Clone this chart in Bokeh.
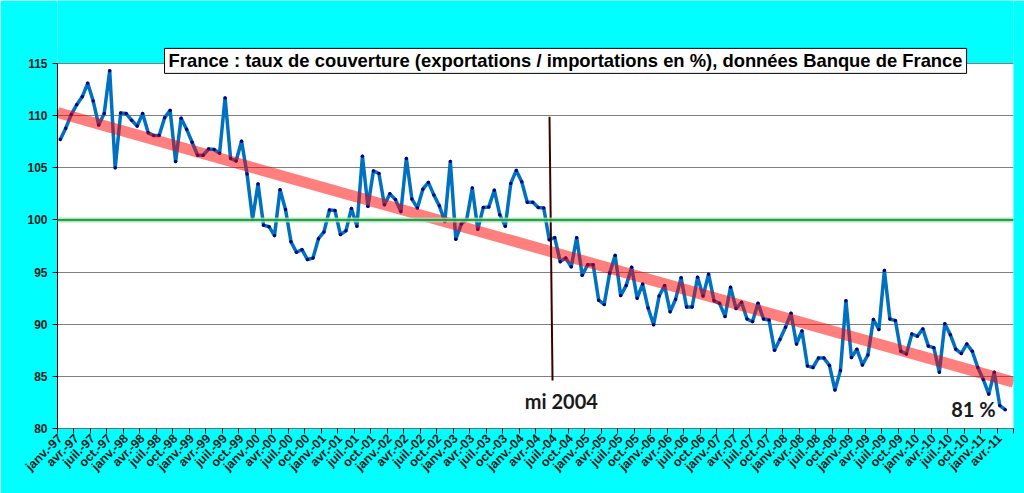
from bokeh.plotting import figure
from bokeh.models import FixedTicker, Label, Span
from bokeh.embed import file_html
from bokeh.resources import INLINE

# Monthly coverage rate (exports / imports, %), Jan 1997 onwards
values = [
    107.7, 108.8, 110.1, 111.05, 111.8, 113.1, 111.4, 109.1, 110.2, 114.3, 105.0, 110.25,
    110.2, 109.55, 109.0, 110.2, 108.35, 108.1, 108.1, 109.8, 110.5, 105.6, 109.75, 108.7,
    107.45, 106.2, 106.2, 106.8, 106.75, 106.4, 111.7, 105.9, 105.65, 107.55, 104.4, 100.1,
    103.45, 99.5, 99.35, 98.5, 102.9, 101.0, 97.9, 96.9, 97.15, 96.2, 96.35, 98.2,
    98.85, 100.95, 100.9, 98.6, 98.95, 101.1, 99.4, 106.1, 101.3, 104.7, 104.45, 101.45,
    102.5, 101.95, 100.8, 105.9, 102.0, 101.15, 102.95, 103.6, 102.4, 101.35, 99.85, 105.6,
    98.15, 99.6, 100.1, 103.05, 99.1, 101.2, 101.25, 102.85, 100.5, 99.4, 103.5, 104.75,
    103.65, 101.7, 101.7, 101.2, 101.15, 98.1, 98.3, 96.0, 96.35, 95.5, 98.3, 94.7,
    95.7, 95.7, 92.3, 91.9, 94.9, 96.6, 92.75, 93.7, 95.45, 92.5, 93.85, 91.55,
    89.95, 92.7, 93.7, 91.2, 92.4, 94.45, 91.65, 91.65, 94.5, 92.7, 94.8, 92.25,
    92.0, 90.75, 93.55, 91.5, 92.1, 90.5, 90.25, 92.0, 90.5, 90.4, 87.5, 88.55,
    89.7, 91.05, 88.1, 89.35, 86.0, 85.85, 86.75, 86.75, 86.05, 83.7, 85.55, 92.25,
    86.8, 87.6, 86.1, 87.05, 90.45, 89.5, 95.15, 90.5, 90.35, 87.4, 87.15, 89.05,
    88.85, 89.55, 87.9, 87.75, 85.4, 90.05, 89.0, 87.6, 87.2, 88.1, 87.4, 85.85,
    84.7, 83.3, 85.4, 82.2, 81.8,
]
months = ["janv.", "avr.", "juil.", "oct."]
years = ["97", "98", "99", "00", "01", "02", "03", "04", "05", "06", "07", "08", "09", "10", "11"]
tick_labels = [f"{m}-{y}" for y in years for m in months][:58]
n_categories = 174
y_ticks = [80, 85, 90, 95, 100, 105, 110, 115]
axis_min, axis_max = 80, 115
title_space_top = 121.04
trend_x = [-0.5, 173.5]
trend_y = [110.3, 84.45]
mid_x = [89.05, 89.6]
mid_y = [109.9, 84.6]
ref_level = 100
title_text = "France : taux de couverture (exportations / importations en %), données Banque de France"

x = list(range(len(values)))
label_pos = [3 * k for k in range(len(tick_labels))]
boundaries = [3 * k - 0.5 for k in range(len(tick_labels) + 1)]
x_lo, x_hi = -0.5, n_categories - 0.5

p = figure(width=1024, height=493, x_range=(x_lo, x_hi), y_range=(axis_min, title_space_top),
           output_backend="svg", toolbar_location=None, title=None)
p.min_border_left = 57
p.min_border_right = 11
p.min_border_top = 0
p.min_border_bottom = 65
p.border_fill_color = "#00FFFF"
p.background_fill_color = "#00FFFF"
p.outline_line_color = None

# white plot area only up to the top of the value axis
p.quad(left=[x_lo], right=[x_hi], bottom=[axis_min], top=[axis_max],
       fill_color="white", line_color=None, level="image")

p.xgrid.visible = False
p.ygrid.ticker = FixedTicker(ticks=y_ticks)
p.ygrid.grid_line_color = "#7f7f7f"
p.ygrid.grid_line_width = 1

p.yaxis.ticker = FixedTicker(ticks=y_ticks)
p.yaxis.bounds = (axis_min, axis_max)
p.yaxis.axis_line_color = "black"
p.yaxis.major_tick_line_color = "black"
p.yaxis.major_tick_out = 5
p.yaxis.major_tick_in = 0
p.yaxis.minor_tick_line_color = None
p.yaxis.major_label_text_font = "Liberation Sans"
p.yaxis.major_label_text_font_style = "bold"
p.yaxis.major_label_text_font_size = "12px"
p.yaxis.major_label_text_color = "#1a1a1a"

p.xaxis.ticker = FixedTicker(ticks=label_pos, minor_ticks=boundaries)
p.xaxis.major_label_overrides = {pos: lab for pos, lab in zip(label_pos, tick_labels)}
p.xaxis.major_label_orientation = 0.785398
p.xaxis.axis_line_color = "#6f6f6f"
p.xaxis.major_tick_line_alpha = 0
p.xaxis.major_tick_out = 4
p.xaxis.major_tick_in = 0
p.xaxis.minor_tick_line_color = "black"
p.xaxis.minor_tick_out = 5
p.xaxis.minor_tick_in = 0
p.xaxis.major_label_text_font = "Liberation Sans"
p.xaxis.major_label_text_font_style = "bold"
p.xaxis.major_label_text_font_size = "12.5px"
p.xaxis.major_label_text_color = "#1a1a1a"
p.xaxis.major_label_standoff = 3

# reference level 100
p.add_layout(Span(location=ref_level, dimension="width", line_color="#9fe0a8", line_width=5, line_alpha=0.8))
p.add_layout(Span(location=ref_level, dimension="width", line_color="#008a30", line_width=1.5))

p.line(x, values, line_color="#0070C0", line_width=3.5, line_join="round")
p.scatter(x, values, size=3.5, color="#000080", line_width=0)

p.line(trend_x, trend_y, line_color="#ff0000", line_alpha=0.5, line_width=11)
p.line(mid_x, mid_y, line_color="#3a0000", line_width=2)

p.add_layout(Label(x=91.2, y=82.6, text="mi 2004", text_font="Lato", text_font_style="bold",
                   text_font_size="20px", text_align="center", text_baseline="middle",
                   text_color="#1a1a1a"))
p.add_layout(Label(x=166.2, y=81.9, text="81 %", text_font="Lato", text_font_style="bold",
                   text_font_size="20px", text_align="center", text_baseline="middle",
                   text_color="#1a1a1a"))

# title box with shadow
title_font_size = "18.4px"
title_pad = dict(x=4, y=2)
p.add_layout(Label(x=91.97, y=115.25, text=title_text, text_font="Liberation Sans",
                   text_font_style="bold", text_font_size=title_font_size, text_align="center",
                   text_baseline="middle", text_alpha=0, x_offset=3, y_offset=-3,
                   background_fill_color="#8c8c8c", background_fill_alpha=0.7, padding=title_pad))
p.add_layout(Label(x=91.97, y=115.25, text=title_text, text_font="Liberation Sans",
                   text_font_style="bold", text_font_size=title_font_size, text_align="center",
                   text_baseline="middle", text_color="black",
                   background_fill_color="white", border_line_color="black",
                   border_line_width=1, padding=title_pad))

open("out.html", "w").write(file_html(p, INLINE))
